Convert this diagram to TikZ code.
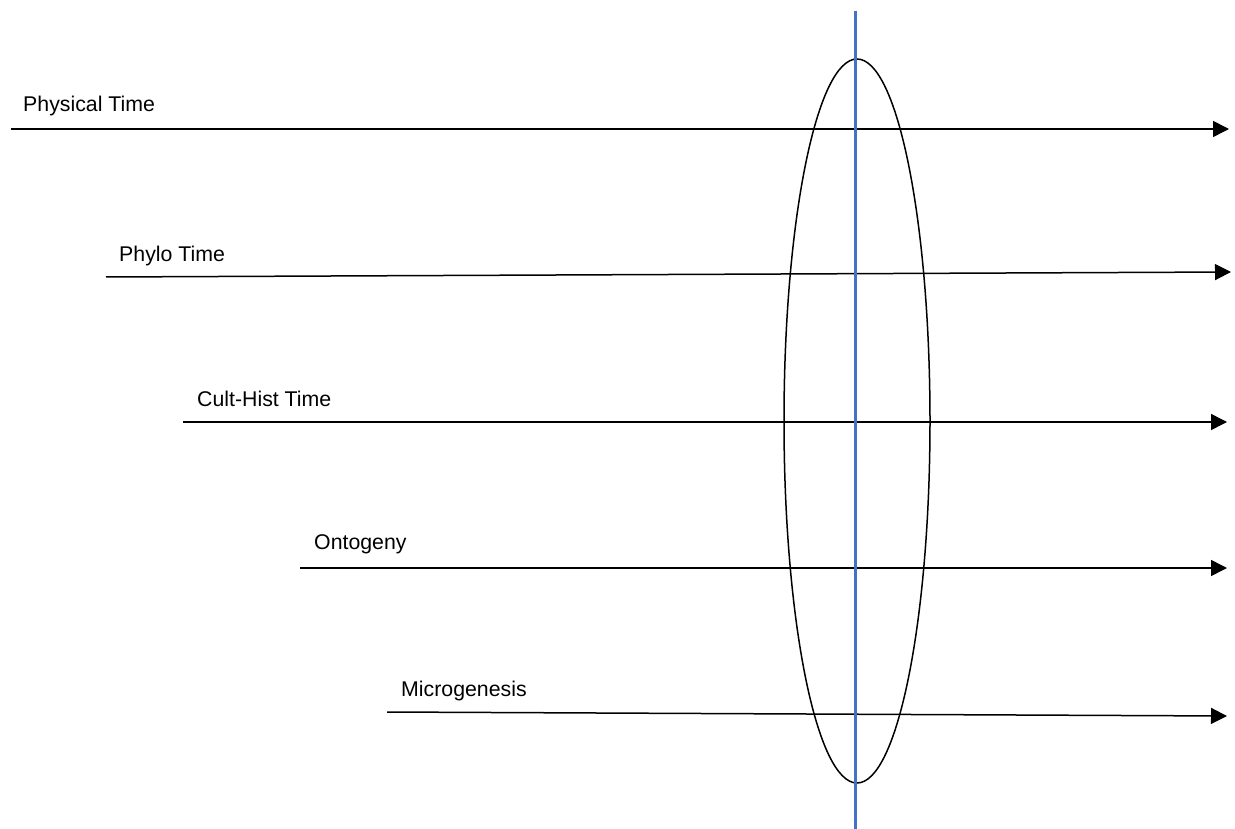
\documentclass[tikz,border=0pt]{standalone}
\usepackage{fontspec}
\setmainfont{Liberation Sans}
\usetikzlibrary{arrows.meta}
\definecolor{axisblue}{HTML}{4472C4}
\begin{document}
\begin{tikzpicture}[x=1pt,y=-1pt,
  timeline/.style={line width=1.5pt,-{Triangle[length=16pt,width=16pt]}},
  lbl/.style={anchor=base west,inner sep=0pt,font=\fontsize{21.3}{25}\selectfont}]
\useasboundingbox (0,0) rectangle (1235,829);
% lines
\coordinate (a1) at (11,129);   \coordinate (b1) at (1229,129);
\coordinate (a2) at (106,277);  \coordinate (b2) at (1231,272);
\coordinate (a3) at (183,422);  \coordinate (b3) at (1227,422);
\coordinate (a4) at (300,568);  \coordinate (b4) at (1227,568);
\coordinate (a5) at (387,712);  \coordinate (b5) at (1227,716);
\draw[timeline] (a1) -- (b1);
\draw[timeline] (a2) -- (b2);
\draw[timeline] (a3) -- (b3);
\draw[timeline] (a4) -- (b4);
\draw[timeline] (a5) -- (b5);
\node[lbl] (t1) at (23,112) {Physical Time};
\node[lbl] (t2) at (119,262) {Phylo Time};
\node[lbl] (t3) at (197,406) {Cult-Hist Time};
\node[lbl] (t4) at (314,549) {Ontogeny};
\node[lbl] (t5) at (401,696) {Microgenesis};
% ellipse
\draw[line width=1.5pt] (857,421) ellipse [x radius=73, y radius=362];
% blue vertical
\coordinate (vtop) at (855.5,11);
\coordinate (vbot) at (855.5,829);
\draw[axisblue,line width=3.5pt] (vtop) -- (vbot);
\end{tikzpicture}
\end{document}
